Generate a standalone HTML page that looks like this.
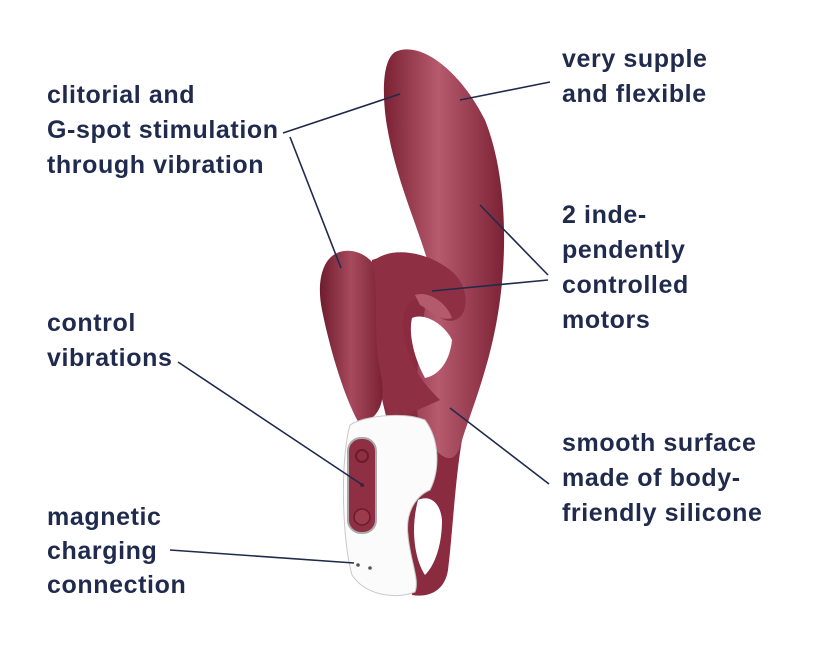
<!DOCTYPE html>
<html><head><meta charset="utf-8"><style>
html,body{margin:0;padding:0;background:#fff;}
body{width:830px;height:645px;position:relative;overflow:hidden;font-family:"Liberation Sans","DejaVu Sans",sans-serif;}
.t{position:absolute;color:#1f2a4d;font-size:25px;font-weight:bold;line-height:35px;letter-spacing:0.6px;white-space:nowrap;}
svg{position:absolute;left:0;top:0;}
</style></head><body>
<svg width="830" height="645" viewBox="0 0 830 645">
<defs>
<linearGradient id="g1" x1="0" y1="0" x2="1" y2="0">
<stop offset="0" stop-color="#7a2133"/><stop offset="0.45" stop-color="#b65a6e"/><stop offset="1" stop-color="#7c2235"/>
</linearGradient>
<linearGradient id="g2" x1="0" y1="0" x2="1" y2="0">
<stop offset="0" stop-color="#6e1c2d"/><stop offset="0.5" stop-color="#a84a5e"/><stop offset="1" stop-color="#7a2133"/>
</linearGradient>
</defs>
<!-- base body -->
<path d="M372 260 C400 250 440 255 470 280 L490 330 C485 380 470 410 462 440 C455 480 452 540 448 570 C445 590 430 598 412 595 L390 430 C375 380 368 320 372 260 Z" fill="#8a2b3f"/>
<!-- main shaft -->
<path d="M395 52 C420 40 460 70 485 120 C505 170 508 240 500 300 C492 360 475 400 462 440 C455 470 440 460 420 430 C410 380 425 320 430 270 C420 230 395 180 386 120 C382 90 383 60 395 52 Z" fill="url(#g1)"/>
<!-- hook curl -->
<path d="M370 265 C385 245 425 250 450 270 C470 285 470 315 455 320 C440 325 430 305 420 300 C405 295 400 320 405 340 C410 370 430 390 440 400 L395 420 C370 390 360 330 370 265 Z" fill="#8e2f43"/>
<path d="M415 295 C430 290 448 305 452 318 C440 322 430 310 420 305 Z" fill="#b35a6d"/>
<path d="M412 318 C425 312 445 325 452 340 C450 360 440 375 425 378 C415 360 408 335 412 318 Z" fill="#fff"/>
<!-- left lobe -->
<path d="M325 265 C335 245 360 248 372 262 C380 290 372 330 380 370 C385 395 385 415 360 425 C345 400 330 350 322 310 C318 290 320 275 325 265 Z" fill="url(#g2)"/>
<!-- handle -->
<path d="M350 425 C365 415 405 412 425 420 C440 440 440 470 430 490 C418 495 405 510 408 535 C410 560 420 580 415 592 C395 600 365 595 352 575 C342 540 340 460 350 425 Z" fill="#fbfbfb" stroke="#c8c8c8" stroke-width="1"/>
<path d="M418 500 C428 495 440 500 442 520 C442 545 435 565 425 575 C415 560 410 530 418 500 Z" fill="#fff"/>
<rect x="348" y="438" width="28" height="95" rx="13" fill="#8e2f43" stroke="#aaa" stroke-width="2"/>
<circle cx="362" cy="456" r="6" fill="none" stroke="#6a1b2b" stroke-width="2"/>
<circle cx="362" cy="485" r="2" fill="#6a1b2b"/>
<circle cx="362" cy="517" r="8" fill="#9c3a4e" stroke="#6a1b2b" stroke-width="1.5"/>
<circle cx="358" cy="565" r="1.8" fill="#555"/><circle cx="370" cy="568" r="1.8" fill="#555"/>
<!-- connectors -->
<g stroke="#1f2a4d" stroke-width="1.6" fill="none">
<path d="M283 133 L400 94"/>
<path d="M290 137 L341 268"/>
<path d="M460 100 L550 82"/>
<path d="M480 205 L548 275"/>
<path d="M432 291 L548 280"/>
<path d="M178 362 L364 486"/>
<path d="M450 408 L549 484"/>
<path d="M170 550 L354 563"/>
</g>
</svg>
<div class="t" style="left:47px;top:78px">clitorial and<br>G-spot stimulation<br>through vibration</div>
<div class="t" style="left:562px;top:42px">very supple<br>and flexible</div>
<div class="t" style="left:562px;top:198px">2 inde-<br>pendently<br>controlled<br>motors</div>
<div class="t" style="left:47px;top:306px">control<br>vibrations</div>
<div class="t" style="left:562px;top:426px">smooth surface<br>made of body-<br>friendly silicone</div>
<div class="t" style="left:47px;top:500px;line-height:34px">magnetic<br>charging<br>connection</div>
</body></html>
